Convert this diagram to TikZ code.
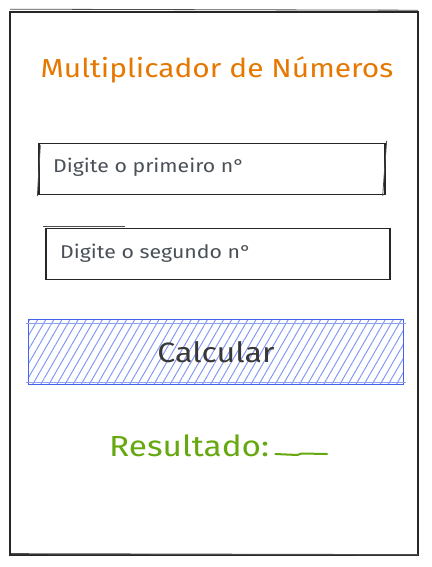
\documentclass[tikz,border=0pt]{standalone}
\usepackage{fontspec}
\setmainfont[FakeStretch=1.15]{Fira Sans}
\usetikzlibrary{patterns.meta}

\definecolor{titleorange}{HTML}{E67700}
\definecolor{resgreen}{HTML}{66A80F}
\definecolor{inkgray}{HTML}{495057}
\definecolor{btnblue}{HTML}{4263EB}

\begin{document}
\begin{tikzpicture}[x=1pt,y=-1pt,
    box/.style={draw=black!85,line width=1.3pt,rectangle,inner sep=0pt},
    sketch/.style={draw=black!70,line width=0.8pt},
    hint/.style={text=inkgray,font=\fontsize{18.5}{22}\selectfont,anchor=west,inner sep=0pt}]
    \useasboundingbox (0,0) rectangle (431,567);

    %page frame
    \node [box,line width=1.6pt,minimum width=408pt,minimum height=543pt] (page) at (214,283.5) {};
    \draw[sketch] ([shift={(1,-2)}]page.north west) -- ([shift={(-1,-1)}]page.north east);
    \draw[sketch,line width=1.2pt] ([shift={(2,-2)}]page.south west) -- ([shift={(-1,-1)}]page.south east);

    %title
    \node [text=titleorange,font=\fontsize{26}{30}\selectfont] (title) at (217,70) {Multiplicador de Números};

    %input fields
    \node [box,minimum width=346pt,minimum height=51pt] (in1) at (212,169) {};
    \node [hint] (t1) at (53,167) {Digite o primeiro n°};
    \node [box,minimum width=344pt,minimum height=51pt] (in2) at (218,254) {};
    \node [hint] (t2) at (60,253) {Digite o segundo n°};
    \draw[sketch] ([shift={(2,2)}]in1.north west) -- ([shift={(-1,1)}]in1.south west);
    \draw[sketch] ([shift={(-2,-1.5)}]in2.north west) -- ([shift={(80,-1.5)}]in2.north west);
    \draw[sketch] ([shift={(-3,1)}]in1.south east) -- ([shift={(1,-2)}]in1.north east);

    %button
    \node [draw=btnblue,line width=1.2pt,minimum width=375pt,minimum height=65pt,
           pattern={Lines[angle=60,distance=7pt,line width=1pt]},pattern color=btnblue!65,
           text=black!78,font=\fontsize{28}{32}\selectfont] (calc) at (216,352) {Calcular};
    \draw[btnblue!60,line width=0.8pt] ([shift={(-2,4)}]calc.north west) -- ([shift={(2,4)}]calc.north east);
    \draw[btnblue!60,line width=0.8pt] ([shift={(-2,-3)}]calc.south west) -- ([shift={(2,-3)}]calc.south east);

    %result
    \node [text=resgreen,font=\fontsize{29}{33}\selectfont,anchor=west,inner sep=0pt] (res) at (109,446) {Resultado:};
    \coordinate (blank) at (327,454);
    \draw[resgreen,line width=2pt,line cap=round] ([xshift=6pt,yshift=-8pt]res.east) -- ++(22,1) -- ++(4,-1.5) -- (blank);
\end{tikzpicture}
\end{document}
